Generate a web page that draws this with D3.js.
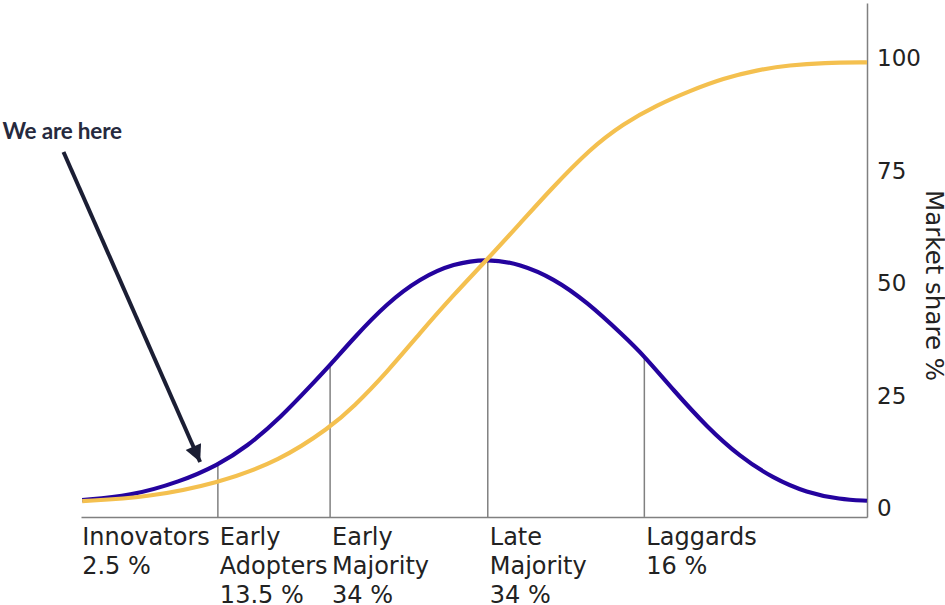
<!DOCTYPE html>
<html>
<head>
<meta charset="utf-8">
<script src="https://cdn.jsdelivr.net/npm/d3@7"></script>
<style>
  html, body { margin: 0; padding: 0; background: #fff; }
  svg { display: block; }
</style>
</head>
<body>
<svg id="chart" width="945" height="605"></svg>
<script>
// ---- Data ----
// x: position along the adoption timeline (0..100), y: market share %
const adoptionX = [0, 6.11, 12.48, 17.29, 20.98, 25.22, 29.43, 31.59, 34.56, 38.82, 43.06, 47.30, 51.72, 55.80, 60.04, 64.29, 68.96, 71.63, 75.32, 79.58, 83.82, 88.06, 92.32, 96.56, 100];
const adoptionY = [1.84, 2.73, 5.91, 9.62, 13.69, 20.07, 27.84, 31.84, 37.78, 45.56, 51.11, 54.44, 55.5, 54.29, 51.11, 45.91, 38.4, 33.84, 26.29, 18.13, 11.47, 6.67, 3.47, 2.0, 1.69];

const shareX = [0, 8.24, 17.29, 25.22, 31.59, 34.56, 38.82, 43.06, 47.30, 51.76, 55.80, 59.62, 64.71, 68.96, 73.21, 77.45, 81.69, 85.95, 90.19, 94.43, 100];
const shareY = [1.62, 2.4, 5.56, 10.6, 18.0, 22.5, 30.2, 39.0, 47.4, 55.6, 63.33, 70.73, 79.9, 85.5, 89.6, 92.8, 95.56, 97.4, 98.51, 99.02, 99.11];

const categoryNames = ["Innovators", "Early Adopters", "Early Majority", "Late Majority", "Laggards"];
const categoryShares = ["2.5 %", "13.5 %", "34 %", "34 %", "16 %"];
const categoryStart = [-0.25, 17.29, 31.59, 51.68, 71.63];
const dividerX = [17.29, 31.59, 51.68, 71.63];
const dividerTop = [9.62, 31.84, 55.3, 33.84];

const yTicks = [0, 25, 50, 75, 100];
const yLabel = "Market share %";

const annotationText = "We are here";
const arrowFrom = [-2.38, 79.2];
const arrowTo = [15.03, 10.3];

// ---- Layout ----
const svg = d3.select("#chart");
const x = d3.scaleLinear().domain([-0.15, 100]).range([81, 867]);
const y = d3.scaleLinear().domain([-1.9, 112.3]).range([516.9, 3]);

const BLUE = "#24039e";
const YELLOW = "#f4c04f";
const GREY = "#808080";
const FONT = "'DejaVu Sans', sans-serif";

// Dividers
svg.append("g").selectAll("line")
  .data(dividerX)
  .join("line")
  .attr("x1", d => x(d)).attr("x2", d => x(d))
  .attr("y1", y(-1.9)).attr("y2", (d, i) => y(dividerTop[i]))
  .attr("stroke", GREY).attr("stroke-width", 1.5);

// Axes
const yAxis = svg.append("g")
  .attr("transform", `translate(${x(100)},0)`)
  .call(d3.axisRight(y).tickValues(yTicks).tickSize(0).tickSizeOuter(0).tickPadding(10));
yAxis.select(".domain").attr("stroke", GREY).attr("stroke-width", 1.5);
yAxis.selectAll("text").attr("font-family", FONT).attr("font-size", 23).attr("fill", "#222");

const xAxis = svg.append("g")
  .attr("transform", `translate(0,${y(-1.9)})`)
  .call(d3.axisBottom(x).tickValues([]).tickSizeOuter(0));
xAxis.select(".domain").attr("stroke", GREY).attr("stroke-width", 1.5);

// Curves
const line = d3.line().x(d => x(d[0])).y(d => y(d[1])).curve(d3.curveBasis);

svg.append("path")
  .datum(adoptionX.map((v, i) => [v, adoptionY[i]]))
  .attr("d", line)
  .attr("fill", "none").attr("stroke", BLUE).attr("stroke-width", 4.2);

svg.append("path")
  .datum(shareX.map((v, i) => [v, shareY[i]]))
  .attr("d", line)
  .attr("fill", "none").attr("stroke", YELLOW).attr("stroke-width", 4.2);

// Category labels
const labelLines = [
  ["Innovators", categoryShares[0]],
  ["Early", "Adopters", categoryShares[1]],
  ["Early", "Majority", categoryShares[2]],
  ["Late", "Majority", categoryShares[3]],
  ["Laggards", categoryShares[4]]
];
const labels = svg.append("g").selectAll("text")
  .data(categoryNames)
  .join("text")
  .attr("x", (d, i) => x(categoryStart[i]) + 2)
  .attr("y", 545)
  .attr("font-family", FONT).attr("font-size", 24).attr("fill", "#222");
labels.selectAll("tspan")
  .data((d, i) => labelLines[i].map(t => ({t, i})))
  .join("tspan")
  .attr("x", d => x(categoryStart[d.i]) + 2)
  .attr("dy", (d, j) => j === 0 ? 0 : 28.8)
  .text(d => d.t);

// Y-axis label
svg.append("text")
  .attr("transform", `translate(926,${y(49.5)}) rotate(90)`)
  .attr("text-anchor", "middle")
  .attr("font-family", FONT).attr("font-size", 24.5).attr("fill", "#222")
  .text(yLabel);

// Annotation
svg.append("defs").append("marker")
  .attr("id", "arrowhead")
  .attr("viewBox", "0 0 10 10")
  .attr("refX", 10).attr("refY", 5)
  .attr("markerWidth", 5.2).attr("markerHeight", 4.2)
  .attr("markerUnits", "strokeWidth")
  .attr("orient", "auto")
  .append("path")
  .attr("d", "M0,0 L10,5 L0,10 Z")
  .attr("fill", "#1b1e34");

svg.append("line")
  .attr("x1", x(arrowFrom[0])).attr("y1", y(arrowFrom[1]))
  .attr("x2", x(arrowTo[0])).attr("y2", y(arrowTo[1]))
  .attr("stroke", "#1b1e34").attr("stroke-width", 4)
  .attr("marker-end", "url(#arrowhead)");

svg.append("text")
  .attr("x", 2.5).attr("y", 139)
  .attr("font-family", "Lato, sans-serif").attr("font-weight", 700)
  .attr("font-size", 22.5).attr("letter-spacing", -0.2).attr("fill", "#262a3e")
  .text(annotationText);
</script>
</body>
</html>
